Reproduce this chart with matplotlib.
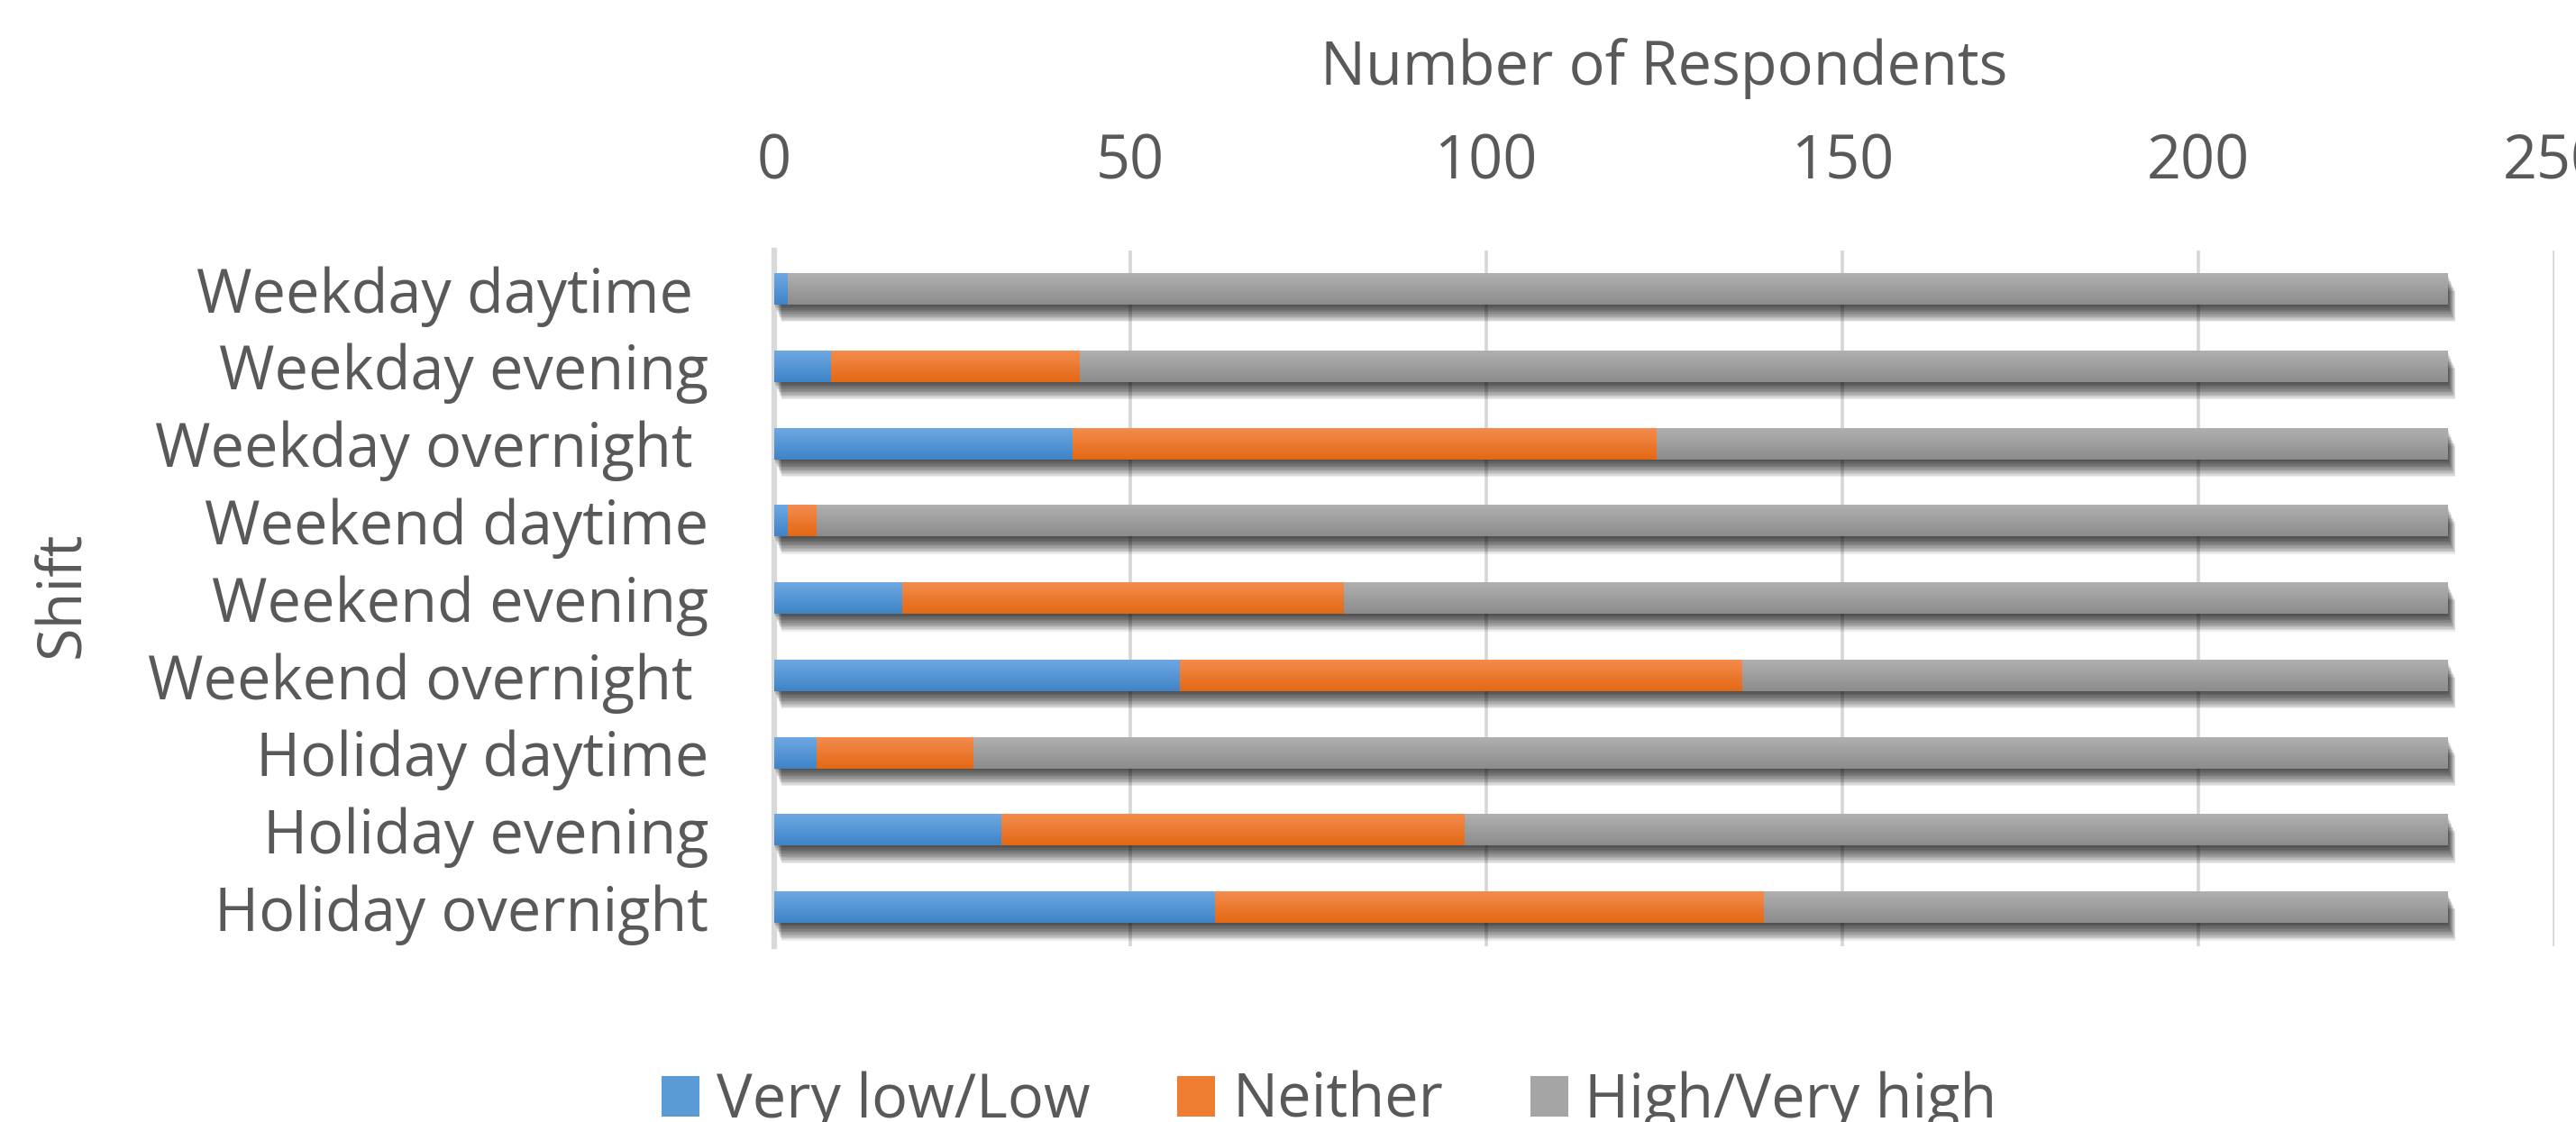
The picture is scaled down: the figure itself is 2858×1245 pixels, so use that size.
import numpy as np
import matplotlib
matplotlib.use("Agg")
import matplotlib.pyplot as plt
from matplotlib.patches import Patch
from matplotlib.colors import LinearSegmentedColormap
import matplotlib.patheffects as pe

# ---- data (number of respondents per shift) ----
shifts = ["Weekday daytime ", "Weekday evening", "Weekday overnight ",
          "Weekend daytime", "Weekend evening", "Weekend overnight ",
          "Holiday daytime", "Holiday evening", "Holiday overnight"]
low     = [2, 8, 42, 2, 18, 57, 6, 32, 62]
neither = [0, 35, 82, 4, 62, 79, 22, 65, 77]
high    = [233, 192, 111, 229, 155, 99, 207, 138, 96]
series_names = ["Very low/Low", "Neither", "High/Very high"]
x_ticks = [0, 50, 100, 150, 200, 250]

# ---- style ----
plt.rcParams["font.family"] = ["Open Sans", "DejaVu Sans"]
FS = 48
TXT = "#595959"
# (top, bottom) colours for the bar gradients
GRAD = [("#6ea8e2", "#3f84c8"), ("#f48c4e", "#e36814"), ("#b0b0b0", "#8c8c8c")]
MID = ["#5b9bd5", "#ed7d31", "#a5a5a5"]

W, H = 2858, 1245
fig = plt.figure(figsize=(W / 100, H / 100), dpi=100)
ax = fig.add_axes([858.5 / W, 1 - 1050 / H, (2834 - 858.5) / W, (1050 - 278) / H])

y = np.arange(len(shifts))
bh = 0.40
# soft drop shadow (stack of offset copies)
shadow = [pe.SimplePatchShadow(offset=(0.45 * k, -1.0 * k), shadow_rgbFace="#000000",
                               alpha=0.075) for k in range(1, 15)] + [pe.Normal()]

left = np.zeros(len(shifts))
for vals, (ctop, cbot), mid in zip([low, neither, high], GRAD, MID):
    vals = np.array(vals, dtype=float)
    bars = ax.barh(y, vals, left=left, height=bh, color=mid, linewidth=0, zorder=2)
    cmap = LinearSegmentedColormap.from_list("g", [ctop, cbot])
    grad = np.linspace(0, 1, 64).reshape(-1, 1)
    for b in bars:
        if b.get_width() <= 0:
            continue
        b.set_path_effects(shadow)
        x0, yc = b.get_x(), b.get_y()
        ax.imshow(grad, cmap=cmap, aspect="auto", origin="upper", zorder=3,
                  extent=(x0, x0 + b.get_width(), yc + bh, yc), interpolation="bilinear")
    left += vals

ax.set_xlim(0, 250)
ax.set_ylim(len(shifts) - 0.5, -0.5)

ax.xaxis.tick_top()
ax.xaxis.set_label_position("top")
ax.set_xticks(x_ticks)
ax.set_yticks(y)
ax.set_yticklabels(shifts)
ax.tick_params(axis="x", length=0, pad=46, labelsize=FS, colors=TXT)
ax.tick_params(axis="y", length=0, pad=52, labelsize=FS, colors=TXT)
ax.set_xlabel("Number of Respondents", fontsize=FS, color=TXT, labelpad=38)

ax.set_ylabel("Shift", fontsize=FS, color=TXT)
ax.yaxis.label.set_verticalalignment("center")
ax.yaxis.set_label_coords((69 - 858.5) / (2834 - 858.5), (1050 - 660) / (1050 - 278))

ax.grid(axis="x", color="#d6d6d6", linewidth=2.6, zorder=0)
ax.set_axisbelow(True)
for s in ["top", "right", "bottom"]:
    ax.spines[s].set_visible(False)
ax.spines["left"].set_color("#d9d9d9")
ax.spines["left"].set_linewidth(4.5)
ax.spines["left"].set_zorder(1)

handles = [Patch(facecolor=c, label=n) for c, n in zip(MID, series_names)]
leg = fig.legend(handles=handles, loc="center", bbox_to_anchor=(1475 / W, 1 - 1222 / H),
                 ncol=3, frameon=False, fontsize=FS, handlelength=0.63, handleheight=0.65,
                 handletextpad=0.28, columnspacing=1.45, borderpad=0, borderaxespad=0)
for t in leg.get_texts():
    t.set_color(TXT)

fig.savefig("out.png", dpi=100)
